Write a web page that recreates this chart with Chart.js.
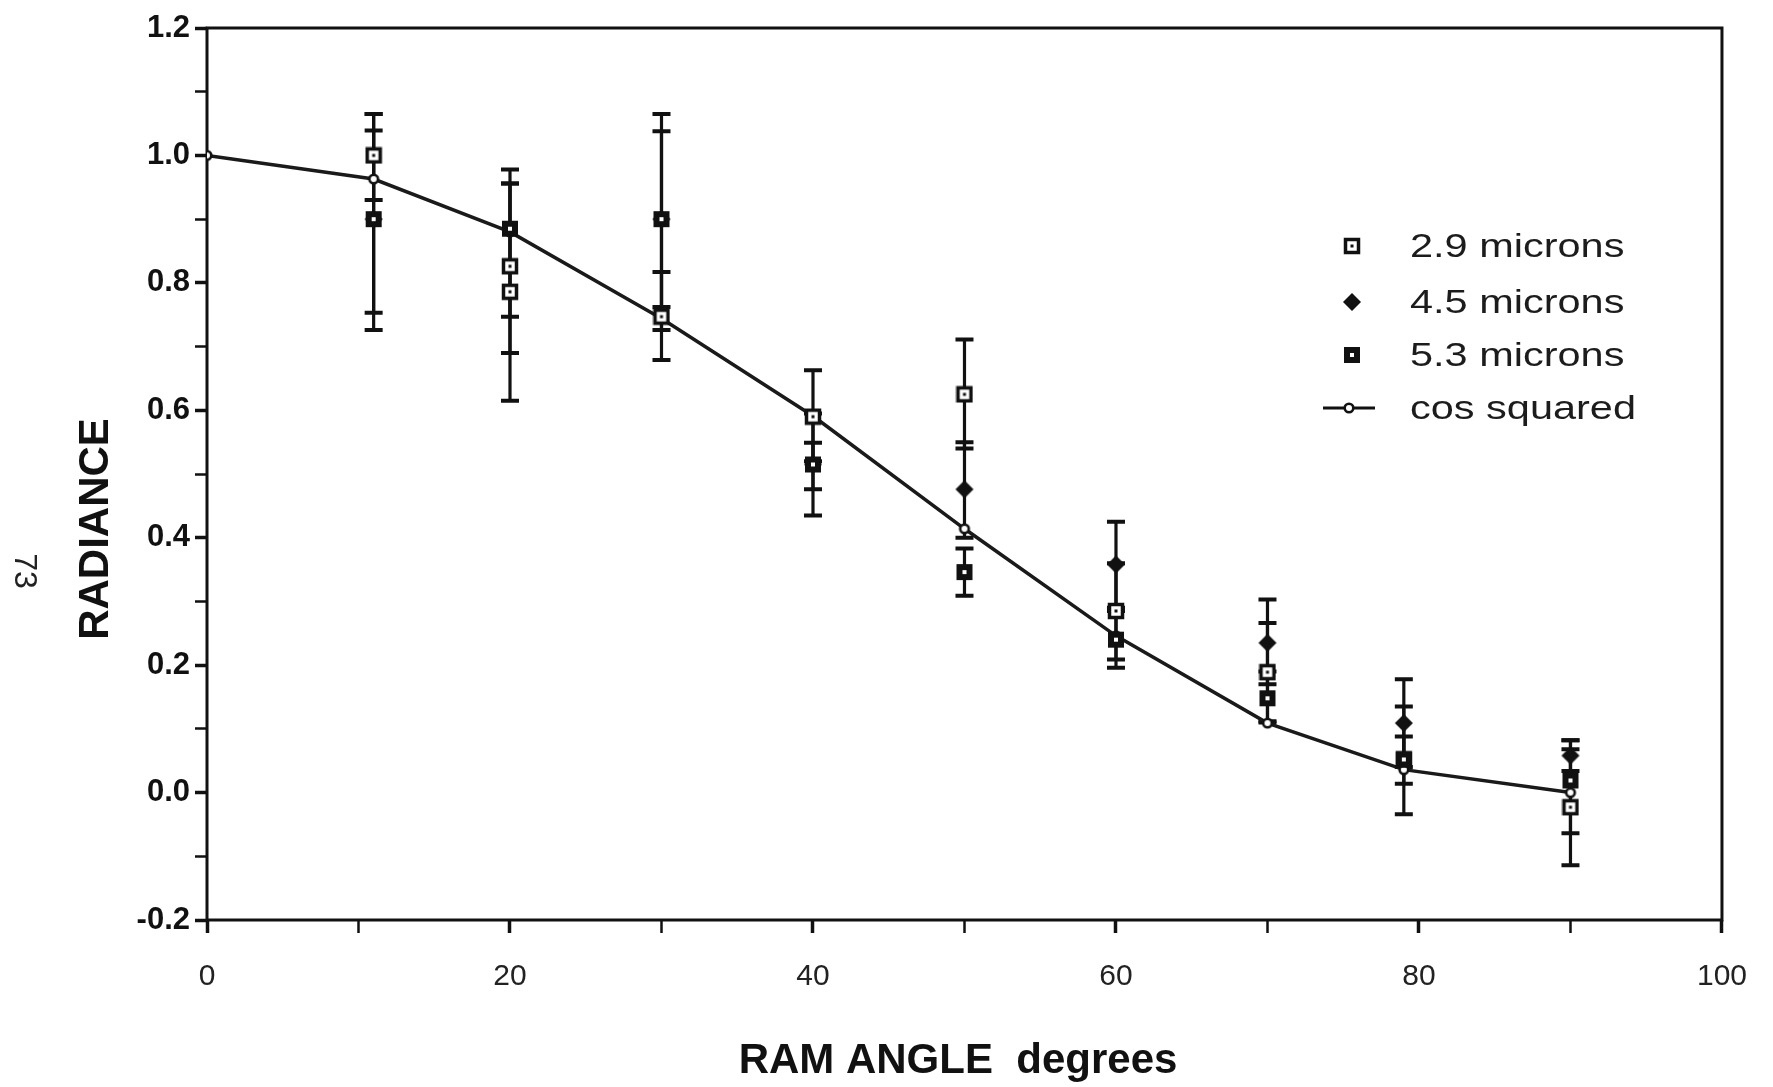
<!DOCTYPE html>
<html>
<head>
<meta charset="utf-8">
<script src="https://cdn.jsdelivr.net/npm/chart.js@4.4.1/dist/chart.umd.min.js"></script>
<style>
  html, body { margin:0; padding:0; background:#fff; }
  #wrap { width:1773px; height:1087px; position:relative; }
</style>
</head>
<body>
<div id="wrap"><canvas id="c" width="1773" height="1087"></canvas></div>
<script>
// ---- data (ram angle in degrees, radiance) ----
// 2.9 microns
const x29  = [11, 20, 20, 30, 40, 50, 60, 70, 79, 90];
const y29  = [1.00, 0.826, 0.786, 0.747, 0.59, 0.625, 0.285, 0.189, 0.052, -0.023];
const lo29 = [0.93, 0.69, 0.615, 0.679, 0.52, 0.54, 0.209, 0.112, -0.034, -0.114];
const hi29 = [1.065, 0.956, 0.956, 0.817, 0.663, 0.711, 0.36, 0.266, 0.135, 0.068];
// 4.5 microns
const x45  = [11, 30, 40, 50, 60, 70, 79, 90];
const y45  = [0.90, 0.90, 0.515, 0.476, 0.358, 0.235, 0.109, 0.058];
const lo45 = [0.753, 0.762, 0.476, 0.40, 0.29, 0.17, 0.04, 0.034];
const hi45 = [1.039, 1.038, 0.549, 0.55, 0.425, 0.303, 0.178, 0.082];
// 5.3 microns
const x53  = [11, 20, 30, 40, 50, 60, 70, 79, 90];
const y53  = [0.90, 0.885, 0.90, 0.515, 0.346, 0.24, 0.148, 0.052, 0.019];
const lo53 = [0.726, 0.747, 0.726, 0.435, 0.309, 0.196, 0.11, 0.014, -0.064];
const hi53 = [1.065, 0.978, 1.065, 0.595, 0.383, 0.285, 0.19, 0.088, 0.082];
// cos squared curve
const xCos = [0, 11, 20, 30, 40, 50, 60, 70, 79, 90];
const yCos = [1.0, 0.963, 0.88, 0.744, 0.591, 0.414, 0.246, 0.109, 0.036, 0.0];

const xTickStep = 10, yTickStep = 0.1;
const xTitle = 'RAM ANGLE  degrees', yTitle = 'RADIANCE', pageNo = '73';
const INK = '#111';
Chart.defaults.font.family = "'Liberation Sans', Arial, Helvetica, sans-serif";

// small canvases used as point styles (scan markers)
function mk(w, draw){ const c=document.createElement('canvas'); c.width=w; c.height=w; draw(c.getContext('2d'), w); return c; }
const mark29 = mk(18, g => { g.fillStyle='#fff'; g.fillRect(2,2,14,14); g.strokeStyle=INK; g.lineWidth=3.5; g.strokeRect(2.5,2.5,13,13); g.fillStyle=INK; g.fillRect(7.5,7.5,3,3); });
const mark53 = mk(18, g => { g.fillStyle=INK; g.fillRect(1,1,16,16); g.fillStyle='#fff'; g.fillRect(7,7,4,4); });
const mark45 = mk(20, g => { g.fillStyle=INK; g.beginPath(); g.moveTo(10,1); g.lineTo(19,10); g.lineTo(10,19); g.lineTo(1,10); g.closePath(); g.fill(); });
const markCos = mk(14, g => { g.fillStyle='#fff'; g.strokeStyle=INK; g.lineWidth=2.6; g.beginPath(); g.arc(7,7,4.3,0,Math.PI*2); g.fill(); g.stroke(); });

const pts = (xs, ys) => xs.map((x,i) => ({x, y: ys[i]}));

// frame + error bars drawn under the markers
const errorBars = {
  id:'errorBars',
  beforeDatasetsDraw(chart){
    const {ctx, chartArea:a, scales:{x, y}} = chart;
    ctx.save();
    ctx.strokeStyle = INK; ctx.lineWidth = 3;
    ctx.strokeRect(a.left, a.top, a.right - a.left, a.bottom - a.top);
    chart.data.datasets.forEach(d => {
      if(!d.errLo) return;
      d.data.forEach((p,i) => {
        const px = x.getPixelForValue(p.x);
        const yl = y.getPixelForValue(d.errLo[i]), yh = y.getPixelForValue(d.errHi[i]);
        ctx.lineWidth = 3.2; ctx.beginPath(); ctx.moveTo(px, yl); ctx.lineTo(px, yh); ctx.stroke();
        ctx.lineWidth = 4; ctx.beginPath();
        ctx.moveTo(px-9, yl); ctx.lineTo(px+9, yl);
        ctx.moveTo(px-9, yh); ctx.lineTo(px+9, yh);
        ctx.stroke();
      });
    });
    ctx.restore();
  }
};

// legend, axis titles and page number, placed like the scan
const extras = {
  id:'extras',
  afterDraw(chart){
    const {ctx} = chart;
    const rows = [246, 302, 355, 408];
    ctx.save();
    ctx.fillStyle = '#1c1c1c';
    ctx.font = "34px 'Liberation Sans', Arial, sans-serif";
    ctx.textBaseline = 'middle';
    chart.data.datasets.forEach((d, r) => {
      const yy = rows[r];
      if(d.showLine){
        ctx.strokeStyle = INK; ctx.lineWidth = 3;
        ctx.beginPath(); ctx.moveTo(1323, yy); ctx.lineTo(1375, yy); ctx.stroke();
        ctx.drawImage(d.pointStyle, 1349 - d.pointStyle.width/2, yy - d.pointStyle.height/2);
      } else {
        ctx.drawImage(d.pointStyle, 1352 - d.pointStyle.width/2, yy - d.pointStyle.height/2);
      }
      ctx.save(); ctx.translate(1410, yy); ctx.scale(1.22, 1);
      ctx.fillText(d.label, 0, 2);
      ctx.restore();
    });

    ctx.fillStyle = INK;
    ctx.textAlign = 'center';
    ctx.font = "bold 42px 'Liberation Sans', Arial, sans-serif";
    ctx.fillText(xTitle, 958, 1061);
    ctx.save(); ctx.translate(96, 529); ctx.rotate(-Math.PI/2);
    ctx.fillText(yTitle, 0, 0);
    ctx.restore();

    ctx.save(); ctx.translate(24, 571); ctx.rotate(Math.PI/2);
    ctx.font = "32px 'Liberation Sans', Arial, sans-serif";
    ctx.fillStyle = '#222';
    ctx.fillText(pageNo, 0, 0);
    ctx.restore();
    ctx.restore();
  }
};

new Chart(document.getElementById('c'), {
  type:'scatter',
  data:{
    datasets:[
      { label:'2.9 microns', data: pts(x29, y29), errLo: lo29, errHi: hi29, pointStyle: mark29, order:3 },
      { label:'4.5 microns', data: pts(x45, y45), errLo: lo45, errHi: hi45, pointStyle: mark45, order:2 },
      { label:'5.3 microns', data: pts(x53, y53), errLo: lo53, errHi: hi53, pointStyle: mark53, order:1 },
      { label:'cos squared', data: pts(xCos, yCos), pointStyle: markCos, showLine:true,
        borderColor:'#1a1a1a', borderWidth:3.5, tension:0, order:10 }
    ]
  },
  options:{
    responsive:false, animation:false, devicePixelRatio:1,
    layout:{ padding:{ left:66, right:46, top:28, bottom:0 } },
    plugins:{ legend:{ display:false }, tooltip:{ enabled:false } },
    scales:{
      x:{
        type:'linear', min:0, max:100,
        ticks:{ stepSize:xTickStep, autoSkip:false, maxRotation:0, padding:26, color:'#222',
          font:{ size:30 }, callback: v => (Math.round(v) % 20 === 0 ? String(Math.round(v)) : '') },
        grid:{ drawOnChartArea:false, tickLength:13, tickColor:INK, tickWidth: c => (c.tick && Math.round(c.tick.value) % 20 === 0 ? 3.5 : 2.5) },
        border:{ display:false },
        title:{ display:false },
        afterFit: s => { s.height = 167; }
      },
      y:{
        type:'linear', min:-0.2, max:1.2,
        ticks:{ stepSize:yTickStep, autoSkip:false, padding:5, color:INK,
          font:{ size:31, weight:'bold' },
          callback: v => (Math.round(v*10) % 2 === 0 ? (Math.round(v*10)/10).toFixed(1) : '') },
        grid:{ drawOnChartArea:false, tickLength:12, tickColor:INK, tickWidth: c => (c.tick && Math.round(c.tick.value*10) % 2 === 0 ? 3.5 : 2.5) },
        border:{ display:false },
        title:{ display:false },
        afterFit: s => { s.width = 141; }
      }
    }
  },
  plugins:[errorBars, extras]
});
</script>
</body>
</html>
